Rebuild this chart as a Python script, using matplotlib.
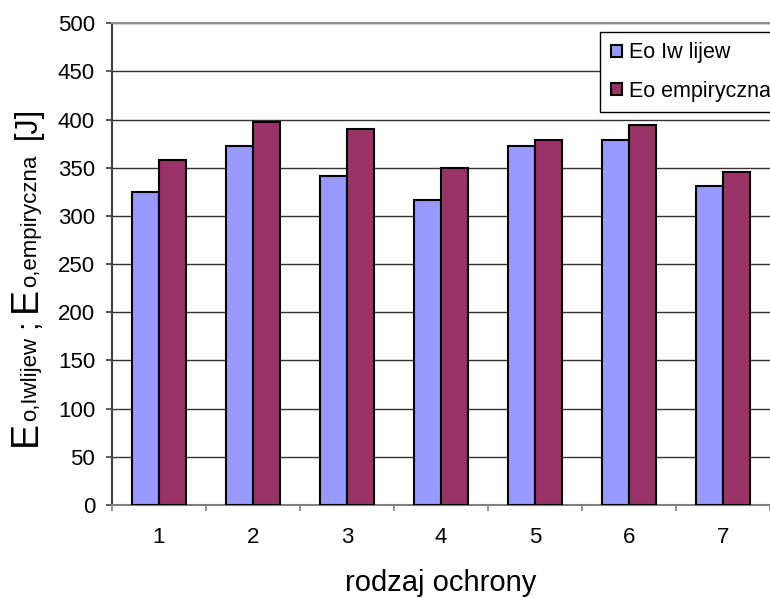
import matplotlib
matplotlib.use('Agg')
import matplotlib.pyplot as plt
import numpy as np
from matplotlib.transforms import IdentityTransform

plt.rcParams['font.family'] = ['Liberation Sans', 'DejaVu Sans']

categories = ['1', '2', '3', '4', '5', '6', '7']
eo_iwlijew = [325, 373, 341, 317, 373, 379, 331]
eo_empiryczna = [358, 398, 390, 350, 379, 394, 346]
legend_labels = ['Eo Iw lijew', 'Eo empiryczna']
yticks = list(range(0, 501, 50))

W, H = 770, 598
fig = plt.figure(figsize=(W / 100, H / 100), dpi=100)
ax = fig.add_axes([111.7 / W, (H - 505) / H, (W - 111.7) / W, (505 - 23.3) / H])

x = np.arange(len(categories))
bw = 0.285
b1 = ax.bar(x - bw / 2, eo_iwlijew, bw, color='#9999FF', edgecolor='black', linewidth=1.5, zorder=3)
b2 = ax.bar(x + bw / 2, eo_empiryczna, bw, color='#993366', edgecolor='black', linewidth=1.5, zorder=3)

ax.set_xlim(-0.5, len(categories) - 0.5)
ax.set_ylim(0, 500)
ax.set_yticks(yticks)
ax.set_xticks(x)
ax.set_xticklabels(categories)
ax.set_xticks(np.arange(len(categories) + 1) - 0.5, minor=True)

ax.grid(axis='y', color='#333333', linewidth=1, zorder=0)
ax.tick_params(axis='x', which='major', length=0, pad=16, labelsize=16)
ax.tick_params(axis='x', which='minor', length=4, width=1.2, color='#808080')
ax.tick_params(axis='y', length=4, width=1.2, color='#404040', pad=8, labelsize=16)

ax.spines['right'].set_visible(False)
ax.spines['top'].set_color('#909090')
ax.spines['top'].set_linewidth(1.5)
ax.spines['left'].set_color('#404040')
ax.spines['left'].set_linewidth(1.5)
ax.spines['bottom'].set_color('#808080')
ax.spines['bottom'].set_linewidth(1.5)

ax.set_xlabel('rodzaj ochrony', fontsize=21, labelpad=15)

leg = fig.legend([b1, b2], legend_labels, loc='upper left',
                 bbox_to_anchor=(600 / W, 1 - 31.7 / H), fontsize=15.5,
                 frameon=True, fancybox=False, framealpha=1, edgecolor='black',
                 handlelength=0.52, handleheight=0.52, handletextpad=0.35,
                 labelspacing=0.8, borderpad=0.5, borderaxespad=0)
leg.get_frame().set_linewidth(1)

# y label built from pieces (large E, small subscripts)
pieces = [('E', 27, 0), ('o,Iwlijew', 16, 0), (';', 22, 8), ('E', 27, 8),
          ('o,empiryczna', 16, 0), ('[J]', 22, 16)]
renderer = fig.canvas.get_renderer()
texts = []
lengths = []
for s, size, gap in pieces:
    t = fig.text(36, 0, s, fontsize=size, rotation=90, rotation_mode='anchor',
                 ha='left', va='baseline', transform=IdentityTransform())
    texts.append(t)
    lengths.append(t.get_window_extent(renderer).height)
total = sum(lengths) + sum(p[2] for p in pieces)
y = (H - 276) - total / 2
for t, L, p in zip(texts, lengths, pieces):
    y += p[2]
    t.set_position((36, y))
    y += L

fig.savefig('out.png', dpi=100)
